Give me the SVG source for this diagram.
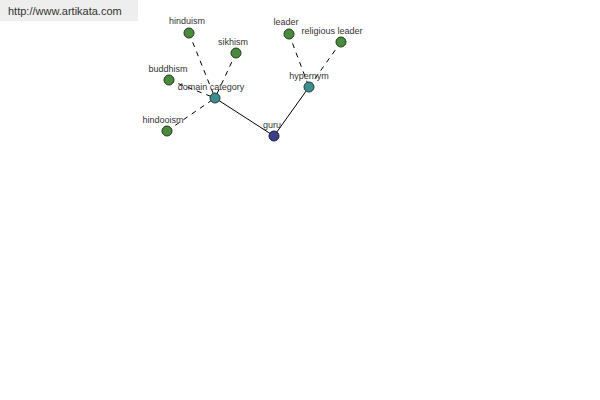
<svg xmlns="http://www.w3.org/2000/svg" width="600" height="400" viewBox="0 0 600 400">
<style>
.lbl{font-family:"Liberation Sans",Arial,sans-serif;font-size:9px;fill:#333;text-anchor:middle}
.d{stroke:#000;stroke-width:1;stroke-dasharray:5,5;fill:none}
.s{stroke:#000;stroke-width:1;fill:none}
.g{fill:#4a8a3f;stroke:#1f3a1a;stroke-width:1}
.t{fill:#3f8c8c;stroke:#1f3f3f;stroke-width:1}
.b{fill:#3a3f8a;stroke:#1a1a3f;stroke-width:1}
</style>
<rect x="0" y="0" width="138" height="21" fill="#eeeeee"/>
<text x="8" y="15" style="font-family:'Liberation Sans',Arial,sans-serif;font-size:11px;fill:#333">http://www.artikata.com</text>
<g id="connectors">
<line class="d" x1="189" y1="33" x2="215" y2="98"/>
<line class="d" x1="236" y1="53" x2="215" y2="98"/>
<line class="d" x1="169" y1="80" x2="215" y2="98"/>
<line class="d" x1="167" y1="131" x2="215" y2="98"/>
<line class="s" x1="215" y1="98" x2="274" y2="136"/>
<line class="s" x1="274" y1="136" x2="309" y2="87"/>
<line class="d" x1="289" y1="34" x2="309" y2="87"/>
<line class="d" x1="341" y1="42" x2="309" y2="87"/>
</g>
<g id="hinduism"><circle class="g" cx="189" cy="33" r="5"/><text class="lbl" x="187" y="24">hinduism</text></g>
<g id="sikhism"><circle class="g" cx="236" cy="53" r="5"/><text class="lbl" x="233" y="45">sikhism</text></g>
<g id="buddhism"><circle class="g" cx="169" cy="80" r="5"/><text class="lbl" x="168" y="72">buddhism</text></g>
<g id="hindooism"><circle class="g" cx="167" cy="131" r="5"/><text class="lbl" x="163" y="123">hindooism</text></g>
<g id="domain_category"><circle class="t" cx="215" cy="98" r="5"/><text class="lbl" x="211" y="90">domain category</text></g>
<g id="guru"><circle class="b" cx="274" cy="136" r="5"/><text class="lbl" x="272" y="128">guru</text></g>
<g id="hypernym"><circle class="t" cx="309" cy="87" r="5"/><text class="lbl" x="309" y="79">hypernym</text></g>
<g id="leader"><circle class="g" cx="289" cy="34" r="5"/><text class="lbl" x="286" y="25">leader</text></g>
<g id="religious_leader"><circle class="g" cx="341" cy="42" r="5"/><text class="lbl" x="332" y="34">religious leader</text></g>
</svg>
